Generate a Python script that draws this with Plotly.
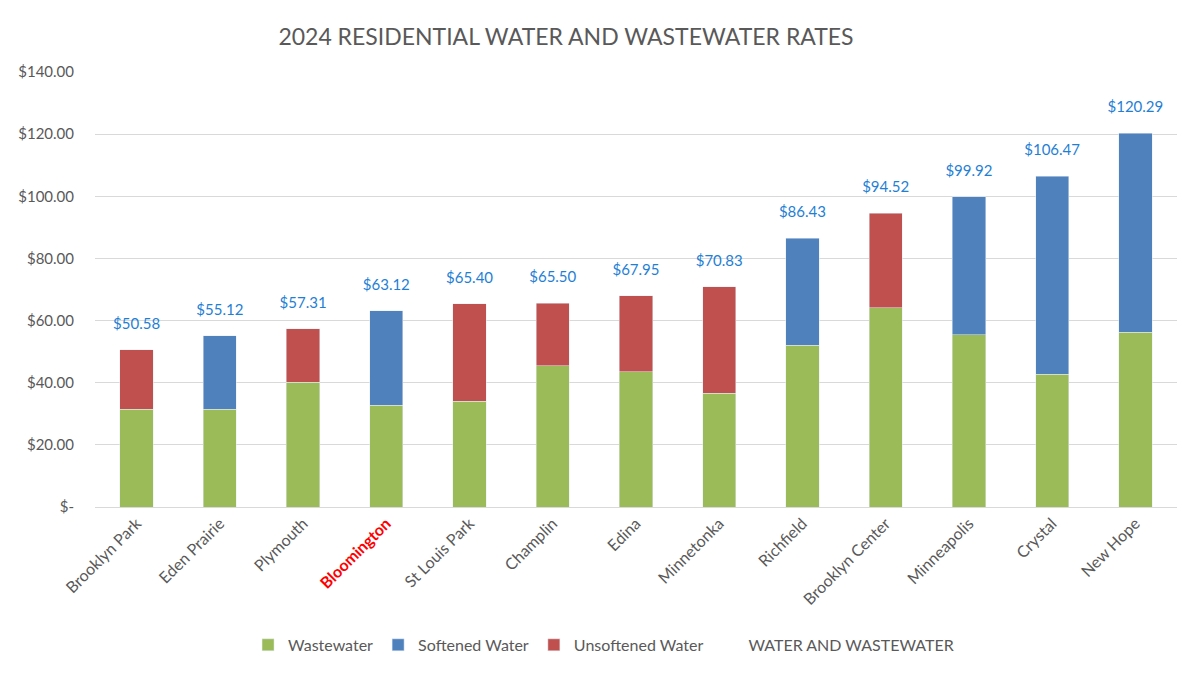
import plotly.graph_objects as go

cities = ["Brooklyn Park", "Eden Prairie", "Plymouth", "Bloomington", "St Louis Park",
          "Champlin", "Edina", "Minnetonka", "Richfield", "Brooklyn Center",
          "Minneapolis", "Crystal", "New Hope"]
totals = [50.58, 55.12, 57.31, 63.12, 65.40, 65.50, 67.95, 70.83, 86.43, 94.52, 99.92, 106.47, 120.29]
wastewater = [31.4, 31.4, 40.2, 32.7, 34.1, 45.4, 43.5, 36.6, 52.0, 64.1, 55.4, 42.7, 56.2]
softened_flag = [False, True, False, True, False, False, False, False, True, False, True, True, True]

softened = [round(t - w, 2) if s else None for t, w, s in zip(totals, wastewater, softened_flag)]
unsoftened = [None if s else round(t - w, 2) for t, w, s in zip(totals, wastewater, softened_flag)]

yticks = [0, 20, 40, 60, 80, 100, 120, 140]
yticktext = ["$-" if v == 0 else f"${v:.2f}" for v in yticks]

ticktext = []
for c in cities:
    if c == "Bloomington":
        ticktext.append("<b><span style='color:#FF0000'>" + c + "</span></b>")
    else:
        ticktext.append(c)

FONT = "Lato"
fig = go.Figure()
fig.add_trace(go.Bar(name="Wastewater", x=cities, y=wastewater, marker_color="#9BBB59"))
fig.add_trace(go.Bar(name="Softened Water", x=cities, y=softened, marker_color="#4F81BD"))
fig.add_trace(go.Bar(name="Unsoftened Water", x=cities, y=unsoftened, marker_color="#C0504D"))
fig.add_trace(go.Scatter(name="WATER AND WASTEWATER", x=cities, y=totals, mode="markers+text",
                         marker=dict(color="rgba(0,0,0,0)", size=26),
                         text=[f"${v:.2f}" for v in totals], textposition="top center",
                         textfont=dict(color="#1F7FD5", size=15, family=FONT),
                         cliponaxis=False, hoverinfo="skip"))

fig.update_layout(
    barmode="stack",
    bargap=0.6,
    width=1200, height=675,
    paper_bgcolor="white", plot_bgcolor="white",
    margin=dict(l=87, r=31, t=64, b=176),
    title=dict(text="2024 RESIDENTIAL WATER AND WASTEWATER RATES", x=0.465, xanchor="center",
               y=0.957, yanchor="middle",
               font=dict(family=FONT, size=23, color="#595959")),
    font=dict(family=FONT, color="#595959"),
    legend=dict(orientation="h", x=0.47, xanchor="center", y=-0.317, yanchor="middle",
                font=dict(family=FONT, size=16, color="#595959"), traceorder="normal",
                itemwidth=30),
    showlegend=True,
)
fig.update_xaxes(tickvals=cities, ticktext=ticktext, tickangle=-45,
                 range=[-0.5, len(cities) - 0.5],
                 tickfont=dict(family=FONT, size=16, color="#595959"),
                 showline=True, linecolor="#D9D9D9", ticks="", automargin=False)
fig.update_yaxes(range=[0, 140], tickvals=yticks, ticktext=yticktext,
                 tickfont=dict(family=FONT, size=15, color="#595959"),
                 showgrid=True, gridcolor="#D9D9D9", zeroline=False,
                 ticklabelstandoff=20, automargin=False)

fig.write_html("out.html")
